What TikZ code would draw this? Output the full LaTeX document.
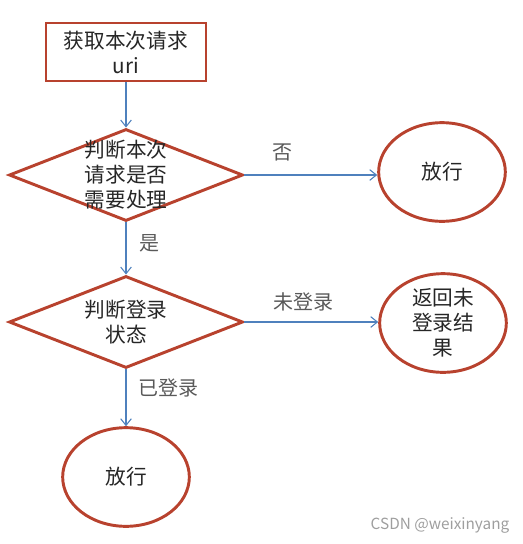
\documentclass[tikz,border=0pt]{standalone}
\usepackage{fontspec}
\setmainfont{Noto Sans CJK SC}
\usepackage{tikz}
\usetikzlibrary{positioning, arrows.meta, shapes.geometric}
\definecolor{boxred}{RGB}{184,66,46}
\definecolor{lineblue}{RGB}{79,129,189}
\definecolor{txtgray}{RGB}{38,38,38}
\definecolor{lblgray}{RGB}{89,89,89}

\begin{document}
\begin{tikzpicture}[x=0.75pt, y=-0.75pt, >={Straight Barb[length=5pt,width=8pt]},
	txt/.style={text=txtgray, align=center, font=\fontsize{15.5}{18.8}\selectfont},
	stepbox/.style={txt, draw=boxred, line width=2.2pt, minimum width=120pt, minimum height=43.5pt, inner sep=0pt},
	decision/.style={diamond, draw=boxred, line width=2.2pt, minimum width=175.5pt, minimum height=69pt, inner sep=0pt},
	endpoint/.style={txt, ellipse, draw=boxred, line width=2.2pt, minimum width=95pt, minimum height=74pt, inner sep=0pt},
	flow/.style={->, lineblue, line width=0.8pt},
	lbl/.style={text=lblgray, inner sep=0pt, font=\fontsize{15}{18}\selectfont}]
		
		\useasboundingbox (0,0) rectangle (523,544);
		
		% Draw boxes
		\node[stepbox] (get) at (126,52) {获取本次请求\\uri};
		\node[decision] (judge) at (126,175) {};
		\node[txt] at (judge) {判断本次\\请求是否\\需要处理};
		\node[endpoint] (pass) at (442,172) {放行};
		
		\node[decision] (login) at (126,322) {};
		\node[txt] at (login) {判断登录\\状态};
		\node[endpoint] (back) at (443,323) {返回未\\登录结\\果};
		\node[endpoint] (passok) at (126,477) {放行};
		
		% Draw arrows
		\draw[flow] (get.south) -- (judge.north);
		\draw[flow] (judge.east) -- node[lbl, pos=0.29, above=10pt] {否} (judge.east -| pass.west);
		\draw[flow] (judge.south) -- node[lbl, pos=0.4, right=10pt] {是} (login.north);
		\draw[flow] (login.east) -- node[lbl, pos=0.44, above=8pt] {未登录} (login.east -| back.west);
		\draw[flow] (login.south) -- node[lbl, pos=0.32, right=9pt] {已登录} (passok.north);
		
		% Watermark
		\node[text=black!38, font=\fontsize{11.5}{13}\selectfont] (mark) at (440,525) {CSDN @weixinyang};
		
	\end{tikzpicture}
\end{document}
